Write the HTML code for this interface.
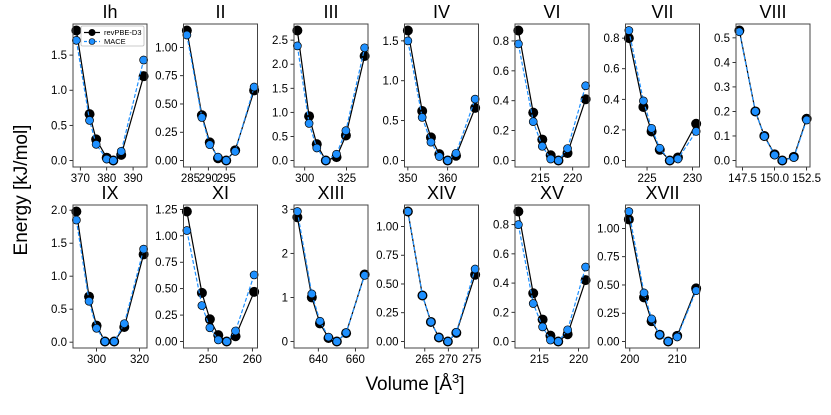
<!DOCTYPE html>
<html><head><meta charset="utf-8"><style>
html,body{margin:0;padding:0;background:#fff;}
svg{display:block;font-family:"Liberation Sans","DejaVu Sans",sans-serif;}
</style></head><body>
<svg id="fig" width="831" height="415" viewBox="0 0 831 415">
<text x="27" y="190" font-size="19" text-anchor="middle" transform="rotate(-90 27 190)">Energy [kJ/mol]</text>
<text x="415" y="390" font-size="19" text-anchor="middle">Volume [Å<tspan dy="-7" font-size="13">3</tspan><tspan dy="7">]</tspan></text>
</svg>
<script>
const panelNames = ["Ih","II","III","IV","VI","VII","VIII","IX","XI","XIII","XIV","XV","XVII"];
const volumes = [
 [368.5,373.5,376,380,382.5,385.5,394],
 [284,288.2,290.4,292.7,295,297.5,302.8],
 [295.6,302.6,307.2,312.6,319,324.6,335.8],
 [350,353.6,355.8,357.9,360,362.1,366.9],
 [211.6,213.9,215.3,216.6,217.8,219.2,222],
 [223.0,224.6,225.5,226.4,227.5,228.4,230.4],
 [147.25,148.5,149.2,150.0,150.6,151.5,152.5],
 [290.6,296.5,300,303.9,308.2,312.9,321.9],
 [245.2,248.6,250.4,252.3,254.2,256.2,260.4],
 [628.7,636.5,640.9,645.5,650,655,665],
 [261.4,264.5,266.3,268,269.9,271.7,275.7],
 [212.3,214.2,215.4,216.4,217.4,218.6,220.9],
 [199.8,203,204.6,206.3,208.1,210,214]
];
const revpbe = [
 [1.85,0.66,0.30,0.04,0.0,0.08,1.20],
 [1.15,0.40,0.16,0.02,0.0,0.09,0.62],
 [2.70,0.92,0.34,0.0,0.07,0.52,2.17],
 [1.63,0.62,0.29,0.08,0.0,0.06,0.66],
 [0.87,0.32,0.14,0.035,0.0,0.05,0.41],
 [0.80,0.35,0.19,0.07,0.0,0.02,0.24],
 [0.53,0.20,0.10,0.025,0.0,0.015,0.17],
 [1.98,0.69,0.25,0.01,0.01,0.23,1.33],
 [1.23,0.46,0.21,0.06,0.0,0.05,0.47],
 [2.82,1.0,0.41,0.08,0.0,0.19,1.52],
 [1.13,0.40,0.17,0.035,0.0,0.075,0.58],
 [0.89,0.33,0.15,0.04,0.0,0.05,0.42],
 [1.08,0.39,0.18,0.06,0.0,0.05,0.47]
];
const mace = [
 [1.71,0.57,0.23,0.02,0.0,0.13,1.43],
 [1.11,0.38,0.14,0.03,0.0,0.08,0.65],
 [2.38,0.77,0.26,0.0,0.13,0.62,2.34],
 [1.50,0.54,0.23,0.05,0.0,0.09,0.77],
 [0.78,0.26,0.095,0.01,0.0,0.08,0.50],
 [0.85,0.39,0.21,0.08,0.0,0.01,0.19],
 [0.525,0.20,0.098,0.022,0.0,0.012,0.165],
 [1.85,0.62,0.21,0.01,0.01,0.28,1.41],
 [1.05,0.34,0.13,0.015,0.0,0.10,0.63],
 [2.95,1.08,0.46,0.10,0.0,0.20,1.50],
 [1.13,0.40,0.17,0.035,0.0,0.08,0.63],
 [0.80,0.26,0.10,0.01,0.0,0.08,0.51],
 [1.15,0.43,0.20,0.06,0.0,0.04,0.45]
];
const xTicks = [[370,380,390],[285,290,295],[300,325],[350,360],[215,220],[225,230],[147.5,150.0,152.5],[300,320],[250,260],[640,660],[265,270,275],[215,220],[200,210]];
const xDec = [0,0,0,0,0,0,1,0,0,0,0,0,0];
const yTicks = [[0,0.5,1,1.5],[0,0.25,0.5,0.75,1],[0,0.5,1,1.5,2,2.5],[0,0.5,1,1.5],[0,0.2,0.4,0.6,0.8],[0,0.2,0.4,0.6,0.8],[0,0.1,0.2,0.3,0.4,0.5],[0,0.5,1,1.5,2],[0,0.25,0.5,0.75,1,1.25],[0,1,2,3],[0,0.25,0.5,0.75,1],[0,0.2,0.4,0.6,0.8],[0,0.25,0.5,0.75,1]];
const yDec = [1,2,1,1,1,1,1,1,2,0,2,1,2];

const NS="http://www.w3.org/2000/svg";
const svg=document.getElementById('fig');
function mk(tag,attrs,parent){const e=document.createElementNS(NS,tag);for(const k in attrs)e.setAttribute(k,attrs[k]);(parent||svg).appendChild(e);return e;}
const W=74,H=143;
for(let p=0;p<panelNames.length;p++){
  const row=p<7?0:1, col=p<7?p:p-7;
  const L=73+110.5*col, T=row===0?24:205;
  const xs=volumes[p], a=revpbe[p], b=mace[p];
  let xmin=Math.min(...xs), xmax=Math.max(...xs);
  const all=a.concat(b); let ymin=Math.min(...all), ymax=Math.max(...all);
  const dx=(xmax-xmin)*0.05, dy=(ymax-ymin)*0.05;
  xmin-=dx;xmax+=dx;ymin-=dy;ymax+=dy;
  const sx=v=>L+(v-xmin)/(xmax-xmin)*W;
  const sy=v=>T+H-(v-ymin)/(ymax-ymin)*H;
  const g=mk('g',{});
  
  
  const t=mk('text',{x:L+W/2,y:T-6,'font-size':18,'text-anchor':'middle'},g);t.textContent=panelNames[p];
  
  
  for(const v of xTicks[p]){
    const x=sx(v);
    mk('line',{x1:x,x2:x,y1:T+H,y2:T+H+3.5,stroke:'#000','stroke-width':0.8},g);
    const tx=mk('text',{x:x,y:T+H+15,'font-size':11.5,'text-anchor':'middle'},g);tx.textContent=v.toFixed(xDec[p]);
    
    
  }
  for(const v of yTicks[p]){
    const y=sy(v);
    mk('line',{x1:L-3.5,x2:L,y1:y,y2:y,stroke:'#000','stroke-width':0.8},g);
    const ty=mk('text',{x:L-6,y:y+4,'font-size':11.5,'text-anchor':'end'},g);ty.textContent=v.toFixed(yDec[p]);
    
    
  }
  const pa=xs.map((v,i)=>sx(v)+','+sy(a[i])).join(' ');
  const pb=xs.map((v,i)=>sx(v)+','+sy(b[i])).join(' ');
  const l1=mk('polyline',{points:pa,fill:'none',stroke:'#000','stroke-width':1.2},g);
  
  
  xs.forEach((v,i)=>{const c=mk('circle',{cx:sx(v),cy:sy(a[i]),r:5,fill:'#000'},g);
    
    });
  const l2=mk('polyline',{points:pb,fill:'none',stroke:'#1e90ff','stroke-width':1.2,'stroke-dasharray':'4,2'},g);
  
  
  xs.forEach((v,i)=>{const c=mk('circle',{cx:sx(v),cy:sy(b[i]),r:4,fill:'#1e90ff',stroke:'#000','stroke-width':0.7},g);
    
    });
  const fr=mk('rect',{x:L,y:T,width:W,height:H,fill:'none',stroke:'#444','stroke-width':1},g);
  
  
  if(p===0){
    const lg=mk('g',{},g);
    
    
    mk('rect',{x:81,y:26,width:63,height:20,fill:'#fff','fill-opacity':0.85,stroke:'#bbb','stroke-width':0.8,rx:1.5},lg);
    mk('line',{x1:84,x2:100,y1:32.5,y2:32.5,stroke:'#000','stroke-width':1.2},lg);
    mk('circle',{cx:92,cy:32.5,r:3.5,fill:'#000'},lg);
    const e1=mk('text',{x:104,y:35,'font-size':7.5},lg);e1.textContent='revPBE-D3';
    
    
    mk('line',{x1:84,x2:100,y1:41.5,y2:41.5,stroke:'#1e90ff','stroke-width':1.2,'stroke-dasharray':'3,2'},lg);
    mk('circle',{cx:92,cy:41.5,r:3,fill:'#1e90ff',stroke:'#000','stroke-width':0.6},lg);
    const e2=mk('text',{x:104,y:44,'font-size':7.5},lg);e2.textContent='MACE';
    
    
  }
}
</script>
</body></html>
